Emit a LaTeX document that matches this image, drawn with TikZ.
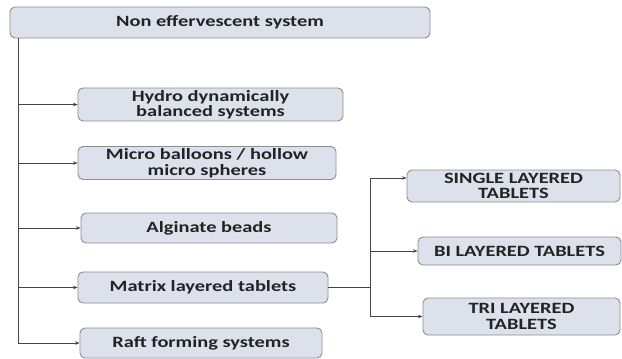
\documentclass[tikz,border=0pt]{standalone}
\usepackage{fontspec}
\setmainfont{Carlito}[FakeStretch=1.3]
\usetikzlibrary{arrows.meta}
\definecolor{boxfill}{RGB}{221,225,235}
\definecolor{boxline}{RGB}{140,140,145}
\definecolor{txt}{RGB}{35,35,35}
\definecolor{conn}{RGB}{70,70,70}
\begin{document}
\begin{tikzpicture}[x=1pt,y=-1pt,
  box/.style={draw=boxline,line width=0.9pt,fill=boxfill,rounded corners=5pt,
    inner sep=2pt,align=center,text=txt,font=\bfseries\fontsize{15.7}{15.5}\selectfont},
  link/.style={draw=conn,line width=0.6pt},
  arr/.style={link,-{Stealth[length=4.5pt,width=3.5pt]}}]
\useasboundingbox (0,0) rectangle (622,359);
\node[box,minimum width=420pt,minimum height=31pt] (top) at (220,22.5) {Non effervescent system};
\node[box,minimum width=265pt,minimum height=31pt] (hydro) at (210.5,104.5) {Hydro dynamically\\balanced systems};
\node[box,minimum width=258pt,minimum height=32pt] (micro) at (207,163) {Micro balloons / hollow\\micro spheres};
\node[box,minimum width=256pt,minimum height=30pt] (alg) at (209,228) {Alginate beads};
\node[box,minimum width=250pt,minimum height=31pt] (matrix) at (203,287.5) {Matrix layered tablets};
\node[box,minimum width=242pt,minimum height=30pt] (raft) at (201,343) {Raft forming systems};
\node[box,minimum width=213pt,minimum height=32pt] (single) at (513.5,186) {SINGLE LAYERED\\TABLETS};
\node[box,minimum width=203pt,minimum height=28pt] (bi) at (519.5,251) {BI LAYERED TABLETS};
\node[box,minimum width=197pt,minimum height=37pt] (tri) at (521.5,316.5) {TRI LAYERED\\TABLETS};
\coordinate (trunk) at (18,38);
\coordinate (tb) at (18,343);
\draw[link] (trunk) -- (tb);
\draw[arr] (tb) -- (raft.west);
\draw[arr] (trunk |- hydro.west) -- (hydro.west);
\draw[arr] (trunk |- micro.west) -- (micro.west);
\draw[arr] (trunk |- alg.west) -- (alg.west);
\draw[arr] (trunk |- matrix.west) -- (matrix.west);
\coordinate (br) at (370,287.5);
\draw[link] (matrix.east) -- (br);
\coordinate (stop) at (370,178);
\coordinate (sbot) at (370,316.5);
\draw[link] (stop) -- (sbot);
\draw[arr] (stop) -- (single.west |- stop);
\draw[arr] (br |- bi.west) -- (bi.west);
\draw[arr] (sbot) -- (tri.west);
\end{tikzpicture}
\end{document}
